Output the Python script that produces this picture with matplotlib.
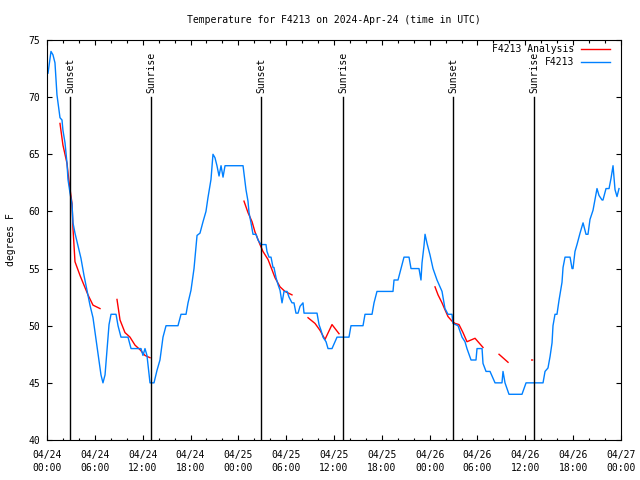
import numpy as np
import matplotlib
matplotlib.use("Agg")
import matplotlib.pyplot as plt
from matplotlib.ticker import MultipleLocator, FixedLocator

# hours since 04/24 00:00 UTC
obs_hours = [0.13, 0.5, 0.75, 1.0, 1.13, 1.25, 1.5, 1.63, 1.88, 2.0, 2.26, 2.51, 2.63, 2.89,
             3.14, 3.26, 3.51, 3.89, 4.26, 4.64, 5.02, 5.39, 5.77, 6.15, 6.52, 6.77, 7.02,
             7.28, 7.53, 7.78, 8.03, 8.66, 8.91, 9.28, 10.16, 10.54, 11.79, 12.04, 12.29,
             12.54, 12.92, 13.42, 13.8, 14.17, 14.55, 14.93, 16.43, 16.81, 17.44, 17.69,
             18.06, 18.44, 18.82, 19.19, 19.57, 19.94, 20.19, 20.57, 20.82, 21.07, 21.32,
             21.58, 21.83, 22.08, 22.33, 24.59, 24.71, 24.96, 25.21, 25.34, 25.59, 25.84,
             26.22, 26.47, 26.84, 27.47, 27.59, 27.85, 28.1, 28.35, 28.47, 28.73, 28.98,
             29.23, 29.48, 29.73, 30.11, 30.36, 30.73, 30.98, 31.23, 31.49, 31.74, 32.11,
             32.24, 33.87, 34.12, 34.37, 34.62, 35.0, 35.25, 35.75, 36.38, 37.88, 38.13,
             39.64, 39.89, 40.77, 41.02, 41.39, 41.77, 43.4, 43.53, 44.03, 44.41, 44.78,
             45.41, 45.66, 46.66, 46.91, 47.04, 47.29, 47.42, 47.67, 48.04, 48.42, 48.92,
             49.55, 49.92, 50.3, 50.8, 50.93, 51.56, 52.06, 52.43, 52.68, 53.19, 53.81,
             53.94, 54.57, 54.69, 55.07, 55.57, 56.2, 57.07, 57.2, 57.45, 57.95, 59.58,
             60.09, 62.22, 62.47, 62.84, 63.1, 63.35, 63.47, 63.72, 63.97, 64.22, 64.6,
             64.73, 64.98, 65.61, 65.86, 65.98, 66.23, 66.48, 66.86, 67.24, 67.61, 67.86,
             68.11, 68.49, 68.99, 69.24, 69.62, 69.74, 70.12, 70.5, 70.75, 71.0, 71.25,
             71.5, 71.75]
obs_temp = [72.1, 74.0, 73.7, 73.0, 71.5, 70.2, 68.9, 68.2, 68.0, 67.1, 66.0, 64.2, 62.8, 61.6,
            60.6, 59.0, 58.1, 57.0, 55.9, 54.4, 53.1, 51.8, 50.7, 48.8, 47.0, 45.7, 45.0,
            45.7, 47.9, 50.1, 51.0, 51.0, 50.0, 49.0, 49.0, 48.0, 48.0, 47.4, 48.0,
            47.4, 45.0, 45.0, 46.1, 47.0, 49.0, 50.0, 50.0, 51.0, 51.0, 52.0,
            53.1, 55.0, 57.9, 58.1, 59.1, 60.0, 61.2, 62.8, 65.0, 64.7, 64.0,
            63.1, 64.0, 63.0, 64.0, 64.0, 63.3, 61.9, 60.9, 59.9, 59.0, 58.0,
            58.0, 57.5, 57.1, 57.1, 56.5, 56.0, 56.0, 55.1, 55.1, 54.2, 53.6,
            53.1, 52.0, 53.0, 53.0, 52.5, 52.0, 52.0, 51.1, 51.1, 51.7, 52.0,
            51.1, 51.1, 50.1, 49.6, 49.0, 48.6, 48.0, 48.0, 49.0, 49.0, 50.0,
            50.0, 51.0, 51.0, 52.0, 53.0, 53.0, 53.0, 54.0, 54.0, 55.0, 56.0,
            56.0, 55.0, 55.0, 54.0, 55.5, 57.0, 58.0, 57.2, 56.2, 55.0, 54.0,
            53.0, 51.5, 51.0, 51.0, 50.2, 50.0, 49.0, 48.6, 48.0, 47.0, 47.0,
            48.0, 48.0, 46.7, 46.0, 46.0, 45.0, 45.0, 46.0, 45.0, 44.0, 44.0,
            45.0, 45.0, 46.0, 46.3, 47.3, 48.5, 50.0, 51.0, 51.0, 52.2, 53.8,
            55.1, 56.0, 56.0, 55.0, 55.0, 56.5, 57.1, 58.1, 59.0, 58.0, 58.0,
            59.3, 60.1, 62.0, 61.4, 61.0, 61.0, 62.0, 62.0, 62.9, 64.0, 61.9,
            61.3, 62.0]

# analysis series, NaN marks a gap
ana_hours = [1.63, 2.0, 2.51, 2.76, 3.14, 3.26, 3.51, 4.14, 5.14, 5.77, 6.65, np.nan,
             8.78, 9.16, 9.78, 10.41, 11.04, 11.67, 12.29, 12.92, np.nan,
             24.71, 25.21, 25.72, 26.09, 26.72, 27.09, 27.72, 28.22, 28.6, 29.23, 29.85, 30.73, np.nan,
             32.74, 33.62, 34.24, 34.87, 35.75, 36.63, np.nan,
             48.67, 49.05, 49.55, 49.92, 50.3, 50.8, 51.18, 51.68, 52.18, 52.68, 53.69, 54.69, np.nan,
             56.7, 57.83, np.nan,
             60.8, 60.9]
ana_temp = [67.7, 65.8, 64.2, 62.6, 60.7, 58.5, 55.6, 54.4, 52.7, 51.8, 51.5, np.nan,
            52.3, 50.5, 49.4, 49.0, 48.3, 47.9, 47.4, 47.2, np.nan,
            60.9, 59.9, 59.1, 58.2, 57.1, 56.5, 55.8, 54.9, 54.2, 53.4, 53.0, 52.7, np.nan,
            50.7, 50.2, 49.6, 48.8, 50.1, 49.3, np.nan,
            53.4, 52.7, 52.0, 51.4, 50.8, 50.4, 50.2, 50.1, 49.4, 48.6, 48.9, 48.1, np.nan,
            47.5, 46.8, np.nan,
            47.0, 47.0]

sun_hours = [2.89, 13.05, 26.85, 37.13, 50.93, 61.1]
sun_labels = ["Sunset", "Sunrise", "Sunset", "Sunrise", "Sunset", "Sunrise"]

tick_hours = [0, 6, 12, 18, 24, 30, 36, 42, 48, 54, 60, 66, 72]
tick_labels = ["04/24\n00:00", "04/24\n06:00", "04/24\n12:00", "04/24\n18:00",
               "04/25\n00:00", "04/25\n06:00", "04/25\n12:00", "04/25\n18:00",
               "04/26\n00:00", "04/26\n06:00", "04/26\n12:00", "04/26\n18:00",
               "04/27\n00:00"]

plt.rcParams['font.family'] = ['DejaVu Sans Mono']
plt.rcParams['font.size'] = 7

fig = plt.figure(figsize=(6.4, 4.8), dpi=100)
ax = fig.add_axes([47/640, 40/480, 574/640, 400/480])

ax.plot(ana_hours, ana_temp, color='#ff0000', lw=1, label='F4213 Analysis')
ax.plot(obs_hours, obs_temp, color='#0080ff', lw=1, label='F4213')

for h, lab in zip(sun_hours, sun_labels):
    ax.plot([h, h], [40, 70], color='black', lw=1)
    ax.text(h, 70.4, lab, rotation=90, ha='center', va='bottom', fontsize=7)

ax.set_xlim(0, 72)
ax.set_ylim(40, 75)
ax.xaxis.set_major_locator(FixedLocator(tick_hours))
ax.set_xticklabels(tick_labels, linespacing=1.45)
ax.xaxis.set_minor_locator(MultipleLocator(2))
ax.yaxis.set_major_locator(MultipleLocator(5))
ax.tick_params(which='both', direction='in', top=True, right=True, width=0.8)
ax.tick_params(which='major', length=3.5)
ax.tick_params(which='minor', length=1.8)
ax.tick_params(axis='x', which='major', pad=7)
ax.tick_params(axis='y', which='major', pad=5)
for s in ax.spines.values():
    s.set_linewidth(0.8)

ax.set_ylabel('degrees F')
ax.yaxis.set_label_coords(-0.0535, 0.5)
ax.set_title('Temperature for F4213 on 2024-Apr-24 (time in UTC)', fontsize=7, pad=12)

ax.legend(loc='upper right', bbox_to_anchor=(1 - 11/574, 1 - 4/400), frameon=False,
          markerfirst=False, handlelength=3.0, handletextpad=0.7, labelspacing=0.3,
          borderpad=0, borderaxespad=0, fontsize=7)

fig.savefig('out.png', dpi=100)
